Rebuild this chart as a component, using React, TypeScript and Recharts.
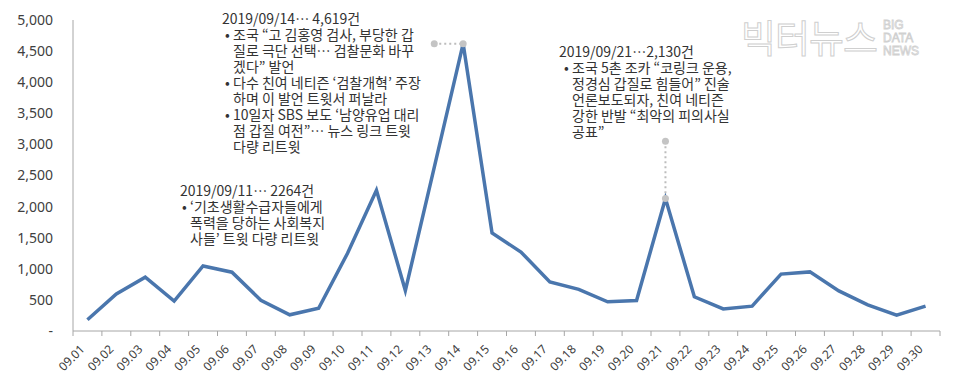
import { LineChart, Line, XAxis, YAxis, ReferenceLine, ReferenceDot } from "recharts";

const dates = [
  "09.01", "09.02", "09.03", "09.04", "09.05", "09.06", "09.07", "09.08", "09.09", "09.10",
  "09.11", "09.12", "09.13", "09.14", "09.15", "09.16", "09.17", "09.18", "09.19", "09.20",
  "09.21", "09.22", "09.23", "09.24", "09.25", "09.26", "09.27", "09.28", "09.29", "09.30",
];
const tweets = [
  180, 595, 865, 480, 1045, 945, 495, 260, 365, 1250,
  2264, 650, 2630, 4619, 1575, 1270, 790, 670, 470, 490,
  2130, 550, 355, 400, 915, 950, 645, 420, 255, 400,
];
const yTicks = [0, 500, 1000, 1500, 2000, 2500, 3000, 3500, 4000, 4500, 5000];

// callout leaders
const peakFrom = "09.13";
const peakTo = "09.14";
const peakValue = 4619;
const sep21 = "09.21";
const sep21Value = 2130;
const sep21Top = 3050;

const note0914 = [
  "2019/09/14… 4,619건",
  "• 조국 “고 김홍영 검사, 부당한 갑",
  "질로 극단 선택… 검찰문화 바꾸",
  "겠다” 발언",
  "• 다수 친여 네티즌 ‘검찰개혁’ 주장",
  "하며 이 발언 트윗서 퍼날라",
  "• 10일자 SBS 보도 ‘남양유업 대리",
  "점 갑질 여전”… 뉴스 링크 트윗",
  "다량 리트윗",
];
const note0911 = [
  "2019/09/11… 2264건",
  "• ‘기초생활수급자들에게",
  "폭력을 당하는 사회복지",
  "사들’ 트윗 다량 리트윗",
];
const note0921 = [
  "2019/09/21…2,130건",
  "• 조국 5촌 조카 “코링크 운용,",
  "정경심 갑질로 힘들어” 진술",
  "언론보도되자, 친여 네티즌",
  "강한 반발 “최악의 피의사실",
  "공표”",
];

const data = dates.map((d, i) => ({ date: d, count: tweets[i] }));

const KR = "'Noto Sans CJK KR', 'Noto Sans', sans-serif";
const GRID = "#a6a6a6";

function Note({ lines, left, top, indent }: { lines: string[]; left: number; top: number; indent: number }) {
  return (
    <div style={{ position: "absolute", left, top, fontFamily: KR, fontSize: 14, lineHeight: "16px", color: "#333", whiteSpace: "nowrap" }}>
      {lines.map((ln, i) => {
        if (i === 0) return <div key={i}>{ln}</div>;
        const bullet = ln.startsWith("• ");
        return (
          <div key={i} style={{ position: "relative", paddingLeft: indent }}>
            {bullet && <span style={{ position: "absolute", left: indent - 8 }}>•</span>}
            {bullet ? ln.slice(2) : ln}
          </div>
        );
      })}
    </div>
  );
}

// date label plus Excel-style tick marks between categories
function DateTick(props: any) {
  const { x, y, payload, index } = props;
  const half = payload.offset || 0;
  const ax = x - 2;
  const ay = y + 19;
  const isLast = index === dates.length - 1;
  return (
    <g>
      <line x1={x - half} x2={x - half} y1={y} y2={y + 5} stroke={GRID} />
      {isLast && <line x1={x + half} x2={x + half} y1={y} y2={y + 5} stroke={GRID} />}
      <text x={ax} y={ay} textAnchor="end" transform={`rotate(-45 ${ax} ${ay})`} fontSize={12} fill="#404040" fontFamily="'Noto Sans', sans-serif">
        {payload.value}
      </text>
    </g>
  );
}

export default function App() {
  return (
    <div style={{ position: "absolute", left: 0, top: 0, width: 960, height: 387, background: "#fff", overflow: "hidden" }}>
      <LineChart width={960} height={387} data={data} margin={{ top: 20, right: 20, left: 0, bottom: 0 }}>
        <XAxis
          dataKey="date"
          scale="band"
          height={56}
          interval={0}
          axisLine={{ stroke: GRID }}
          tickLine={false}
          tickSize={0}
          tickMargin={0}
          tick={<DateTick />}
        />
        <YAxis
          width={73}
          domain={[0, 5000]}
          ticks={yTicks}
          interval={0}
          tickLine={false}
          tickSize={0}
          tickMargin={20}
          axisLine={{ stroke: GRID }}
          tick={{ fontSize: 14, fill: "#404040", fontFamily: "'Noto Sans', sans-serif" }}
          tickFormatter={(v: number) => (v === 0 ? "-" : v.toLocaleString("en-US"))}
        />
        <Line
          type="linear"
          dataKey="count"
          stroke="#4a76ad"
          strokeWidth={3.5}
          dot={false}
          activeDot={false}
          isAnimationActive={false}
        />
        <ReferenceLine
          segment={[{ x: peakFrom, y: peakValue }, { x: peakTo, y: peakValue }]}
          stroke="#bdbdbd"
          strokeWidth={2}
          strokeDasharray="2 3"
        />
        <ReferenceLine
          segment={[{ x: sep21, y: sep21Top }, { x: sep21, y: sep21Value }]}
          stroke="#bdbdbd"
          strokeWidth={2}
          strokeDasharray="2 3"
        />
        <ReferenceDot x={peakFrom} y={peakValue} r={3.5} fill="#c4c4c4" stroke="none" />
        <ReferenceDot x={peakTo} y={peakValue} r={3.5} fill="#c4c4c4" stroke="none" />
        <ReferenceDot x={sep21} y={sep21Top} r={3.5} fill="#c4c4c4" stroke="none" />
        <ReferenceDot x={sep21} y={sep21Value} r={3.5} fill="#c4c4c4" stroke="none" />
      </LineChart>

      <Note lines={note0914} left={222} top={10} indent={11} />
      <Note lines={note0911} left={180} top={182} indent={10} />
      <Note lines={note0921} left={559} top={43} indent={13} />

      <div style={{ position: "absolute", left: 741, top: 12, fontFamily: KR, fontWeight: 400, fontSize: 38, lineHeight: "48px", color: "#fff", WebkitTextStroke: "1px #cfcfcf", letterSpacing: -1 }}>
        빅터뉴스
      </div>
      <div style={{ position: "absolute", left: 883, top: 19, fontFamily: "'Liberation Sans', sans-serif", fontSize: 12, lineHeight: "13px", color: "#fff", WebkitTextStroke: "0.8px #d0d0d0" }}>
        <div>BIG</div>
        <div>DATA</div>
        <div>NEWS</div>
      </div>
    </div>
  );
}
